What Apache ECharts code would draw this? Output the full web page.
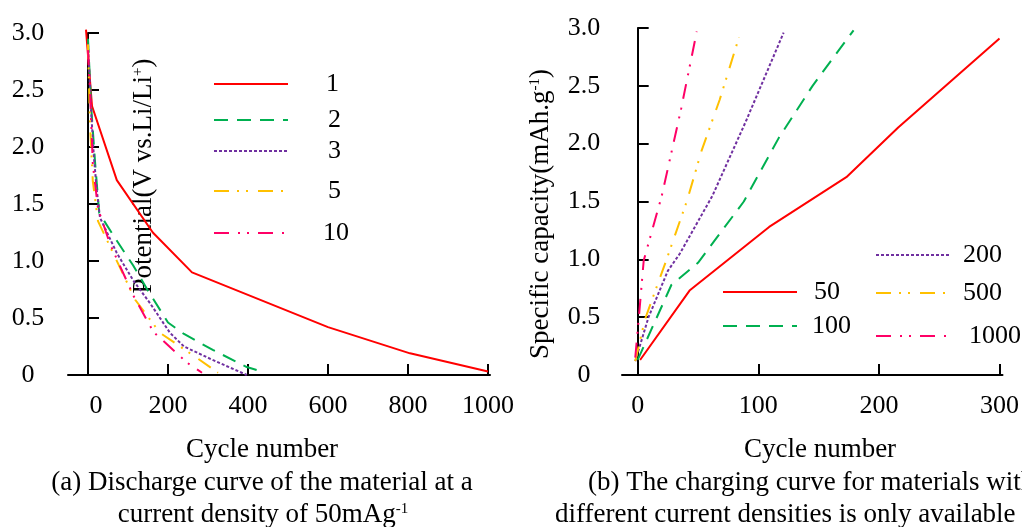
<!DOCTYPE html>
<html><head><meta charset="utf-8">
<script src="https://cdn.jsdelivr.net/npm/echarts@6/dist/echarts.min.js"></script>
<style>html,body{margin:0;padding:0;background:#fff}#c{width:1022px;height:527px}</style>
</head><body><div id="c"></div>
<script>
// ---- Chart (a): discharge curves, legend = cycle number ----
const namesA = ['1', '2', '3', '5', '10'];
const dis1 = [[-5,3.03],[10,2.36],[72,1.71],[162,1.25],[260,0.90],[600,0.42],[805,0.19],[1000,0.03]];
const dis2 = [[0,2.95],[8,2.35],[18,1.85],[28,1.42],[68,1.20],[113,0.96],[150,0.74],[200,0.46],[240,0.36],[312,0.22],[397,0.07],[435,0.03]];
const dis3 = [[0,2.90],[8,2.30],[15,1.90],[22,1.62],[30,1.38],[72,1.07],[113,0.83],[155,0.63],[205,0.37],[240,0.25],[313,0.13],[397,0.0]];
const dis5 = [[0,2.90],[5,2.20],[12,1.70],[25,1.35],[60,1.09],[118,0.66],[180,0.37],[272,0.15],[325,0.02]];
const dis10 = [[0,2.85],[5,2.50],[12,1.85],[25,1.46],[55,1.15],[113,0.70],[163,0.38],[247,0.11],[285,0.02]];
const xTicksA = [0, 200, 400, 600, 800, 1000];

// ---- Chart (b): charging curves, legend = current density ----
const namesB = ['50', '100', '200', '500', '1000'];
const chg50 = [[2,0.13],[43,0.73],[109,1.28],[173,1.71],[216,2.14],[300,2.91]];
const chg100 = [[0,0.13],[28,0.78],[50,0.97],[88,1.50],[117,2.05],[145,2.50],[179,2.98]];
const chg200 = [[-2,0.12],[9,0.50],[25,0.90],[35,1.05],[62,1.55],[90,2.20],[121,2.96]];
const chg500 = [[-2,0.12],[6,0.48],[24,1.00],[41,1.51],[53,1.94],[68,2.38],[84,2.92]];
const chg1000 = [[-2,0.15],[1,0.50],[5,0.99],[20,1.55],[36,2.30],[49,2.97]];
const xLabelsB = [0, 100, 200, 300];
const xTicksB = [100, 200, 300];

const yMax = 3.0, yStep = 0.5;

const colors = ['#FF0000', '#00B050', '#7030A0', '#FFC000', '#FF0066'];
const dashes = ['solid', [14, 9], [3, 2], [15, 8, 2, 7, 2, 10], [15, 9, 2, 7, 2, 9]];
const FONT = 'Liberation Serif';
const FS = 26;   // tick / legend labels
const FT = 27;   // titles, captions

function mkSeries(name, data, i, idx) {
  return {
    name: name, type: 'line', data: data, xAxisIndex: idx, yAxisIndex: idx,
    symbol: 'none', showSymbol: false, clip: false, animation: false,
    lineStyle: { color: colors[i], width: 2, type: dashes[i] },
    itemStyle: { color: colors[i] }
  };
}

function mkLegend(name, left, cy, pad) {
  return {
    data: [name], left: left, top: cy - 13, padding: 0, orient: 'vertical',
    itemWidth: 74, itemHeight: 14, selectedMode: false,
    itemStyle: { opacity: 0, color: 'rgba(0,0,0,0)', borderWidth: 0 },
    textStyle: { fontFamily: FONT, fontSize: FS, color: '#000', lineHeight: 26, padding: [0, 0, 0, pad] }
  };
}

function yAxisCfg(idx) {
  return {
    type: 'value', gridIndex: idx, min: 0, max: yMax, interval: yStep,
    axisLine: { show: true, lineStyle: { color: '#000', width: 2 } },
    axisTick: { show: true, inside: true, length: 11, lineStyle: { color: '#000', width: 2 } },
    axisLabel: {
      fontFamily: FONT, fontSize: FS, color: '#000', align: 'center', margin: idx === 0 ? 40 : 38,
      formatter: v => v === 0 ? '0' : v.toFixed(1)
    },
    splitLine: { show: false }
  };
}

const dataA = [dis1, dis2, dis3, dis5, dis10];
const dataB = [chg50, chg100, chg200, chg500, chg1000];

const series = [];
namesA.forEach((n, i) => series.push(mkSeries(n, dataA[i], i, 0)));
namesB.forEach((n, i) => series.push(mkSeries(n, dataB[i], i, 1)));

const supRich = { s: { fontFamily: FONT, fontSize: 15, fill: '#000', verticalAlign: 'top', lineHeight: 27 } };
function txt(text, x, y, align, rot) {
  return {
    type: 'text', x: x, y: y, rotation: rot || 0,
    style: { text: text, fontFamily: FONT, fontSize: FT, fill: '#000', align: align, verticalAlign: 'middle', rich: supRich }
  };
}

const option = {
  backgroundColor: '#fff',
  animation: false,
  grid: [
    { left: 68, top: 33, width: 422, height: 342 },
    { left: 622, top: 28, width: 383, height: 347 }
  ],
  xAxis: [
    {
      type: 'value', gridIndex: 0, min: -50, max: 1005,
      axisLine: { show: true, onZero: false, lineStyle: { color: '#000', width: 2 } },
      axisTick: { show: true, inside: true, length: 11, customValues: xTicksA, lineStyle: { color: '#000', width: 2 } },
      axisLabel: {
        fontFamily: FONT, fontSize: FS, color: '#000', margin: 18, customValues: xTicksA,
        formatter: v => v === 0 ? '{z|0}' : String(v),
        rich: { z: { fontFamily: FONT, fontSize: FS, color: '#000', padding: [0, 0, 0, 16] } }
      },
      splitLine: { show: false }
    },
    {
      type: 'value', gridIndex: 1, min: -13, max: 302.5,
      axisLine: { show: true, onZero: false, lineStyle: { color: '#000', width: 2 } },
      axisTick: { show: true, inside: true, length: 11, customValues: xTicksB, lineStyle: { color: '#000', width: 2 } },
      axisLabel: { fontFamily: FONT, fontSize: FS, color: '#000', margin: 18, customValues: xLabelsB },
      splitLine: { show: false }
    }
  ],
  yAxis: [yAxisCfg(0), yAxisCfg(1)],
  legend: [
    mkLegend('1', 213, 84, 33),
    mkLegend('2', 213, 120, 35),
    mkLegend('3', 213, 151, 35),
    mkLegend('5', 213, 191, 35),
    mkLegend('10', 213, 233, 30),
    mkLegend('50', 722, 292, 12),
    mkLegend('100', 722, 326, 10),
    mkLegend('200', 875, 255, 8),
    mkLegend('500', 875, 293, 8),
    mkLegend('1000', 875, 336, 14)
  ],
  graphic: [
    txt('Potential(V vs.Li/Li{s|+})', 144, 176, 'center', Math.PI / 2),
    txt('Specific capacity(mAh.g{s|-1})', 541, 214, 'center', Math.PI / 2),
    txt('Cycle number', 262, 450, 'center'),
    txt('Cycle number', 820, 450, 'center'),
    txt('(a) Discharge curve of the material at a', 262, 483, 'center'),
    txt('current density of 50mAg{s|-1}', 263, 515, 'center'),
    txt('(b) The charging curve for materials with', 588, 483, 'left'),
    txt('different current densities is only available r', 555, 515, 'left')
  ],
  series: series
};

const chart = echarts.init(document.getElementById('c'), null, { renderer: 'canvas' });
chart.setOption(option);
</script>
</body></html>
